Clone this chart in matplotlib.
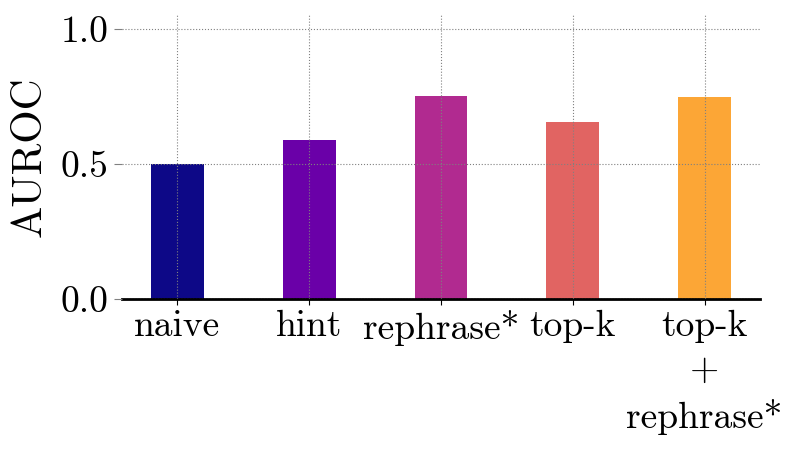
import numpy as np
import matplotlib
matplotlib.use('Agg')
import matplotlib.pyplot as plt

# ------------------------------------------------------------------------------
# Data
# ------------------------------------------------------------------------------
methods = ['naive', 'hint', 'rephrase*', 'top-k', 'top-k\n+\nrephrase*']
auroc = [0.50, 0.589, 0.752, 0.656, 0.748]

# ------------------------------------------------------------------------------
# Plot
# ------------------------------------------------------------------------------
plt.rcParams['font.family'] = 'cmr10'
plt.rcParams['mathtext.fontset'] = 'cm'
plt.rcParams['axes.unicode_minus'] = False
plt.rcParams['axes.formatter.use_mathtext'] = True
plt.rcParams['font.size'] = 27

colors = plt.cm.plasma(np.linspace(0, 0.8, len(methods)))

fig = plt.figure(figsize=(8, 4.5), dpi=100)
ax = fig.add_axes([0.1525, 0.3356, 0.7975, 0.631])
x = np.arange(len(methods))
ax.bar(x, auroc, width=0.4, color=colors, zorder=2)
ax.set_ylim([0, 1.05])
ax.set_yticks([0.0, 0.5, 1.0])
ax.set_yticklabels(['0.0', '0.5', '1.0'])
ax.set_xticks(x)
ax.set_xticklabels(methods, linespacing=1.4)
ax.set_ylabel('AUROC', fontsize=31, labelpad=8)
ax.grid(True, linestyle=':', color='gray', linewidth=0.8, zorder=3)
ax.set_axisbelow(False)
for s in ['top', 'right', 'left']:
    ax.spines[s].set_visible(False)
ax.spines['bottom'].set_linewidth(2)
ax.tick_params(axis='y', length=6, width=0.8, color='gray', pad=4)
ax.tick_params(axis='x', length=4, width=0.8, pad=4)

fig.savefig('out.png', dpi=100)
